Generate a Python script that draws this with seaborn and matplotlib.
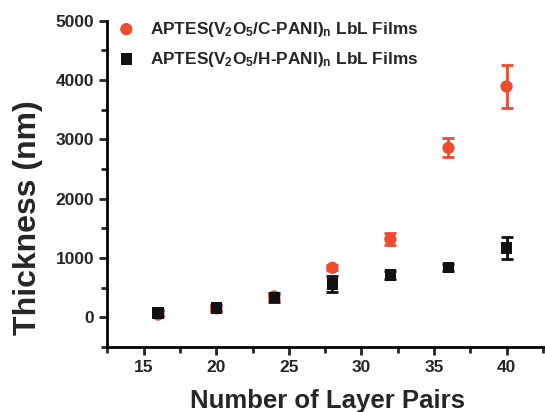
import matplotlib
matplotlib.use("Agg")
import matplotlib.pyplot as plt
import seaborn as sns
import pandas as pd
import numpy as np
from matplotlib.ticker import MultipleLocator

layers = [16, 20, 24, 28, 32, 36, 40]
c_pani = [45, 150, 350, 833, 1315, 2855, 3890]
c_pani_err = [40, 40, 50, 40, 100, 160, 355]
h_pani = [75, 157, 330, 557, 712, 840, 1165]
h_pani_err = [50, 50, 80, 130, 60, 60, 180]

label_c = r"APTES(V$_2$O$_5$/C-PANI)$_n$ LbL Films"
label_h = r"APTES(V$_2$O$_5$/H-PANI)$_n$ LbL Films"
red = "#EE4B2F"
black = "#111111"

sns.set_style("ticks")
plt.rcParams["font.family"] = ["Liberation Sans", "DejaVu Sans"]
plt.rcParams["font.weight"] = "bold"
plt.rcParams["mathtext.fontset"] = "custom"
plt.rcParams["mathtext.rm"] = "Liberation Sans:bold"
plt.rcParams["mathtext.it"] = "Liberation Sans:bold"
plt.rcParams["mathtext.bf"] = "Liberation Sans:bold"
plt.rcParams["mathtext.default"] = "rm"

df_c = pd.DataFrame({"layers": layers, "thickness": c_pani, "err": c_pani_err, "series": label_c})
df_h = pd.DataFrame({"layers": layers, "thickness": h_pani, "err": h_pani_err, "series": label_h})

fig = plt.figure(figsize=(5.45, 4.12), dpi=100)
ax = fig.add_axes([0.197, 0.158, 0.803, 0.792])

for sub, col in [(df_h, black), (df_c, red)]:
    ax.errorbar(sub.layers, sub.thickness, yerr=sub.err, fmt="none",
                ecolor=col, elinewidth=2, capsize=4, capthick=2, zorder=2)

sns.scatterplot(data=df_c, x="layers", y="thickness", color=red, marker="o",
                s=78, edgecolor="none", linewidth=0, ax=ax, zorder=3, label=label_c)
sns.scatterplot(data=df_h, x="layers", y="thickness", color=black, marker="s",
                s=68, edgecolor="none", linewidth=0, ax=ax, zorder=3, label=label_h)

ax.set_xlim(12.5, 42.65)
ax.set_ylim(-500, 5000)
ax.xaxis.set_major_locator(MultipleLocator(5))
ax.xaxis.set_minor_locator(MultipleLocator(2.5))
ax.yaxis.set_major_locator(MultipleLocator(1000))
ax.yaxis.set_minor_locator(MultipleLocator(500))
ax.tick_params(which="major", length=6, width=2, labelsize=12.5, direction="out")
ax.tick_params(which="minor", length=4, width=2, direction="out")
for lbl in ax.get_xticklabels() + ax.get_yticklabels():
    lbl.set_fontweight("bold")
for side in ["top", "right"]:
    ax.spines[side].set_visible(False)
for side in ["left", "bottom"]:
    ax.spines[side].set_linewidth(2)
    ax.spines[side].set_color("black")

ax.set_xlabel("Number of Layer Pairs", fontsize=18.5, fontweight="bold")
ax.xaxis.set_label_coords(0.502, -0.128)
ax.set_ylabel("Thickness (nm)", fontsize=23, fontweight="bold")
ax.yaxis.set_label_coords(-0.148, 0.395)

leg = ax.legend(loc="upper left", bbox_to_anchor=(0.0, 1.024), frameon=False,
                fontsize=12.4, handletextpad=0.7, labelspacing=0.63,
                borderaxespad=0.0, handlelength=1.4)
for t in leg.get_texts():
    t.set_fontweight("bold")

fig.savefig("out.png", dpi=100)
